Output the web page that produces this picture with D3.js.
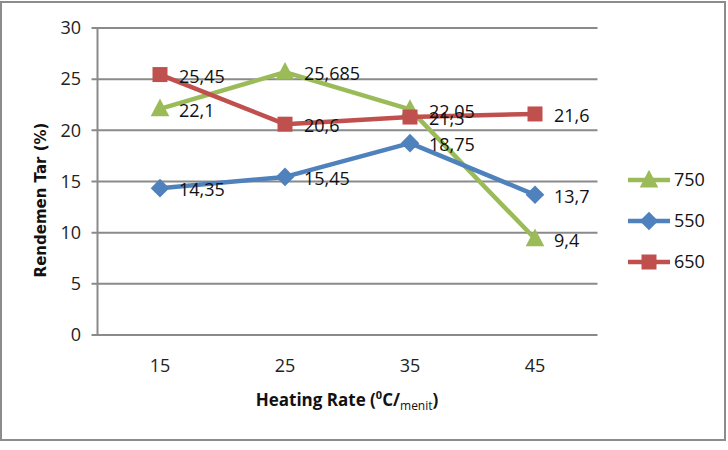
<!DOCTYPE html>
<html><head><meta charset="utf-8">
<script src="https://cdn.jsdelivr.net/npm/d3@7"></script>
<style>body{margin:0;background:#fff}svg{display:block}</style>
</head><body>
<svg id="c" width="728" height="450"></svg>
<script>
const categories = ["15", "25", "35", "45"];
const s750 = [22.1, 25.685, 22.05, 9.4];
const s550 = [14.35, 15.45, 18.75, 13.7];
const s650 = [25.45, 20.6, 21.3, 21.6];
const seriesNames = ["750", "550", "650"];
const yTicks = [0, 5, 10, 15, 20, 25, 30];

const series = [
  {name: seriesNames[0], values: s750, color: "#9BBB59", marker: "triangle"},
  {name: seriesNames[1], values: s550, color: "#4F81BD", marker: "diamond"},
  {name: seriesNames[2], values: s650, color: "#C0504D", marker: "square"}
];
// draw order: 750 first, 550, then 650 on top
const drawOrder = [series[0], series[1], series[2]];

const font = "'Liberation Sans Narrow', 'Open Sans', sans-serif";
const svg = d3.select("#c");
svg.append("rect").attr("x", 1).attr("y", 2).attr("width", 724).attr("height", 438)
  .attr("fill", "#fff").attr("stroke", "#8c8c8c").attr("stroke-width", 2);

const L = 97.5, R = 597.5, T = 28, B = 335;
const x = d3.scaleBand().domain(categories).range([L, R]);
const y = d3.scaleLinear().domain([0, 30]).range([B, T]);

// grid
const g = svg.append("g");
g.selectAll("line.grid").data(yTicks).join("line")
  .attr("x1", L - 6).attr("x2", R).attr("y1", d => y(d)).attr("y2", d => y(d))
  .attr("stroke", "#8a8a8a").attr("stroke-width", 2);
g.append("line").attr("x1", L).attr("x2", L).attr("y1", T).attr("y2", B)
  .attr("stroke", "#8a8a8a").attr("stroke-width", 2);

// y tick labels
g.selectAll("text.yt").data(yTicks).join("text")
  .attr("x", 81).attr("y", d => y(d)).attr("dy", "0.35em")
  .attr("text-anchor", "end").attr("font-family", font).attr("font-size", 18)
  .attr("fill", "#222").text(d => d);

// x tick labels
g.selectAll("text.xt").data(categories).join("text")
  .attr("x", d => x(d) + x.bandwidth() / 2).attr("y", 366).attr("dy", "0.35em")
  .attr("text-anchor", "middle").attr("font-family", font).attr("font-size", 18)
  .attr("fill", "#222").text(d => d);

// axis titles
const xt = svg.append("text").attr("x", 347).attr("y", 406)
  .attr("text-anchor", "middle").attr("font-family", font).attr("font-size", 17)
  .attr("font-weight", "bold").attr("fill", "#111");
xt.append("tspan").text("Heating Rate (");
xt.append("tspan").attr("font-size", 11).attr("dy", -7).text("0");
xt.append("tspan").attr("dy", 7).text("C/");
xt.append("tspan").attr("font-size", 12).attr("dy", 4).attr("font-weight", "normal").text("menit");
xt.append("tspan").attr("dy", -4).text(")");

svg.append("text").attr("transform", "translate(46,200) rotate(-90)")
  .attr("text-anchor", "middle").attr("font-family", "'DejaVu Sans', sans-serif")
  .attr("font-size", 15).attr("font-weight", "bold").attr("fill", "#111")
  .text("Rendemen Tar (%)");

const line = d3.line().x((d, i) => x(categories[i]) + x.bandwidth() / 2).y(d => y(d));

function marker(sel, type, color, size) {
  if (type === "square") {
    sel.append("rect").attr("x", -size / 2).attr("y", -size / 2).attr("width", size).attr("height", size).attr("fill", color);
  } else if (type === "diamond") {
    const s = size * 0.62;
    sel.append("path").attr("d", `M0,${-s}L${s},0L0,${s}L${-s},0Z`).attr("fill", color);
  } else {
    const s = size * 0.62;
    sel.append("path").attr("d", `M0,${-s * 1.1}L${s},${s * 0.8}L${-s},${s * 0.8}Z`).attr("fill", color);
  }
}

drawOrder.forEach(s => {
  svg.append("path").datum(s.values).attr("d", line).attr("fill", "none")
    .attr("stroke", s.color).attr("stroke-width", 4.5).attr("stroke-linejoin", "round");
  s.values.forEach((v, i) => {
    const gm = svg.append("g").attr("transform", `translate(${x(categories[i]) + x.bandwidth() / 2},${y(v)})`);
    marker(gm, s.marker, s.color, 15);
  });
});
drawOrder.forEach(s => {
  svg.selectAll(null).data(s.values).join("text")
    .attr("x", (d, i) => x(categories[i]) + x.bandwidth() / 2 + 19)
    .attr("y", d => y(d) + 2).attr("dy", "0.35em")
    .attr("font-family", font).attr("font-size", 18).attr("fill", "#111")
    .text(d => String(d).replace(".", ","));
});

// legend
const legY = [180, 221, 262];
series.forEach((s, i) => {
  const lg = svg.append("g").attr("transform", `translate(628,${legY[i]})`);
  lg.append("line").attr("x1", 0).attr("x2", 42).attr("y1", 0).attr("y2", 0)
    .attr("stroke", s.color).attr("stroke-width", 4.5);
  const m = lg.append("g").attr("transform", "translate(21,0)");
  marker(m, s.marker, s.color, 15);
  lg.append("text").attr("x", 46).attr("y", 0).attr("dy", "0.35em")
    .attr("font-family", font).attr("font-size", 18).attr("fill", "#111").text(s.name);
});
</script>
</body></html>
